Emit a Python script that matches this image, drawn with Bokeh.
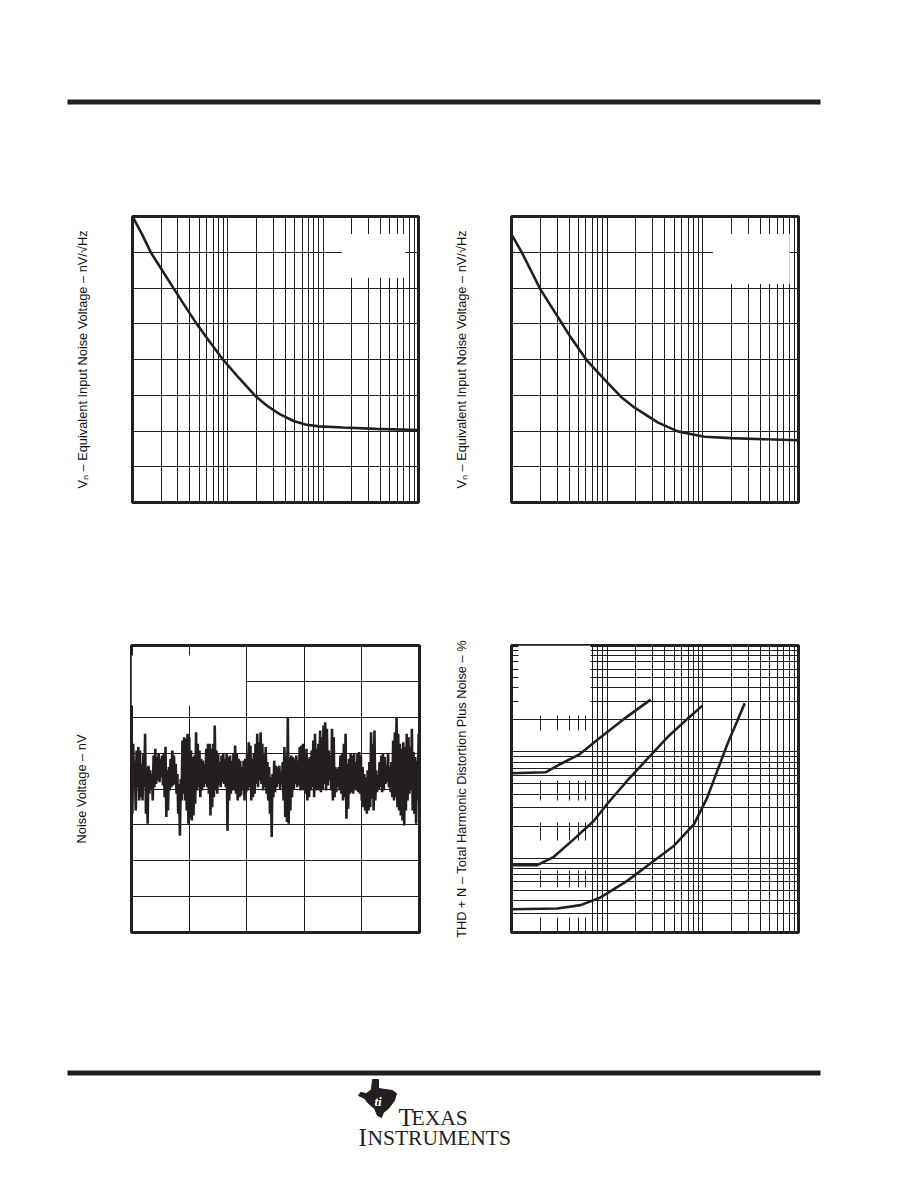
from bokeh.plotting import figure
from bokeh.layouts import column, row
from bokeh.models import Range1d, FixedTicker
from bokeh.embed import file_html
from bokeh.resources import INLINE
from bokeh.core.properties import value

INK = "#231f20"
LABEL_INK = "#111111"
LABEL_FONT = "Liberation Sans"
LOGO_FONT = "Liberation Serif"

# ---------------- data ----------------
# Chart 1: equivalent input noise voltage vs frequency (device A)
vn1_freq_hz = [10, 12.5, 15.6, 20, 27, 35, 47.3, 65, 90, 130, 194, 260, 350, 489, 650, 900, 1600, 3600, 10000]
vn1_nv = [80, 75.2, 69.9, 65.4, 59.9, 55.2, 49.9, 44.8, 39.8, 34.9, 29.8, 27.0, 24.7, 22.8, 21.8, 21.3, 21.0, 20.6, 20.3]

# Chart 2: equivalent input noise voltage vs frequency (device B)
vn2_freq_hz = [10, 12.9, 20, 30, 34.4, 41.6, 62, 100, 139, 192, 337, 547, 1040, 1982, 4436, 10000]
vn2_nv = [75.0, 69.8, 59.7, 52.2, 49.7, 46.2, 39.6, 33.6, 29.6, 26.6, 22.4, 19.9, 18.4, 18.0, 17.7, 17.4]

# Chart 3: noise voltage over time (nV), uniformly sampled across the 10 s record
noise_record_s = 10
noise_nv = [
    135, -69, 126, 14, 79, -60, 107, 5, 117, -32, 107, -23, 70, -32, 98, 5, 154, -69, 61, -97,
    65, -13, 52, 0, 42, -32, 93, 5, 112, 14, 89, 24, 98, 19, 84, 33, 93, 10, 98, -23,
    118, -78, 52, -60, 61, -4, 84, 5, 107, 10, 93, 14, 70, -13, 42, -69, 14, -130, 28, -32,
    135, -13, 144, -32, 140, -60, 154, -97, 144, -83, 107, -88, 89, -74, 93, -41, 158, -4, 126, 5,
    107, -23, 84, -4, 79, 5, 70, 14, 112, 5, 126, -13, 126, -74, 112, -51, 126, -23, 177, -4,
    107, -13, 98, 10, 75, 5, 93, 19, 98, 14, 84, 5,
    98, -116, 89, -32, 93, -13, 79, -4, 98, -4, 121, -13, 98, -32, 84, -23, 79, -18, 61, -4,
    79, -32, 84, -9, 98, -4, 130, 5, 121, -32, 84, -23, 98, -13, 126, 14, 154, 5, 130, 24,
    158, 14, 126, -4, 98, 5, 117, -13, 75, -32, 61, -69, 33, -134, 42, -23, 79, -9, 65, 5,
    61, 14, 65, 0, 47, 14, 75, -32, 117, -78, 93, -92, 200, -97, 89, -60, 93, -23, 89, 0,
    84, 14, 93, 5, 79, 10, 117, -4, 121, 0, 126, -4, 98, -13, 112, -32, 84, -23, 89, -4,
    107, 5, 135, -23, 154, -4, 112, 0, 126, -4, 163, -9, 144, 0, 177, 14,
    186, -4, 168, 10, 107, 24, 93, -4, 168, -32, 144, -23, 61, -9, 56, 5, 61, -4, 93, -13,
    98, -32, 126, -23, 154, -83, 70, -55, 84, -13, 98, -9, 93, -13, 98, 0, 75, -4, 98, -9,
    103, -13, 93, -32, 61, -51, 42, -60, 33, -69, 52, -60, 75, -51, 158, -27, 126, -60, 163, -32,
    52, -9, 38, 0, 75, 5, 93, -9, 98, -4, 89, 14, 65, 19, 98, 5, 61, -9, 75, -23,
    135, -32, 158, -23, 200, -51, 154, -60, 126, -74, 112, -88, 130, -102, 117, -60, 154, -32, 144, -13,
    117, -4, 168, -60, 103, -69, 89, -97, 79, -32, 154, -13,
]

# Chart 4: THD+N (%) vs output, three curves
thd_a_x = [0.01, 0.0227, 0.0326, 0.0507, 0.0853, 0.150, 0.285]
thd_a_y = [0.0628, 0.0642, 0.0769, 0.0941, 0.137, 0.204, 0.310]
thd_b_x = [0.01, 0.0186, 0.0277, 0.0449, 0.0727, 0.1, 0.162, 0.263, 0.426, 0.689, 0.989]
thd_b_y = [0.0086, 0.0086, 0.0103, 0.0151, 0.0225, 0.0323, 0.0535, 0.0857, 0.137, 0.204, 0.272]
thd_c_x = [0.01, 0.0301, 0.0527, 0.0853, 0.162, 0.263, 0.50, 0.81, 1.114, 1.419, 1.806, 2.30, 2.74]
thd_c_y = [0.00331, 0.00336, 0.00362, 0.00427, 0.00612, 0.00848, 0.0131, 0.0209, 0.0373, 0.0666, 0.1186, 0.197, 0.286]

# grid / tick positions
vn_x_major = [100, 1000]
vn_x_minor = [20, 30, 40, 50, 60, 70, 80, 90, 200, 300, 400, 500, 600, 700, 800, 900,
              2000, 3000, 4000, 5000, 6000, 7000, 8000, 9000]
vn_y_grid = [10, 20, 30, 40, 50, 60, 70]
noise_x_grid = [2, 4, 6, 8]
noise_y_grid = [-300, -200, -100, 0, 100, 200, 300]
thd_x_major = [0.1, 1]
thd_x_minor = [0.02, 0.03, 0.04, 0.05, 0.06, 0.07, 0.08, 0.09, 0.2, 0.3, 0.4, 0.5, 0.6, 0.7, 0.8, 0.9,
               2, 3, 4, 5, 6, 7, 8, 9]
thd_y_lines = [0.003, 0.004, 0.005, 0.006, 0.007, 0.008, 0.009, 0.01, 0.02, 0.03, 0.04, 0.05, 0.06,
               0.07, 0.08, 0.09, 0.1, 0.2, 0.3, 0.4, 0.5, 0.6, 0.7, 0.8, 0.9]

# blanked annotation areas (left, right, bottom, top) in data units
vn1_blank = [(1570, 7244, 62.9, 75.1)]
vn2_blank = [(1274, 8110, 61.1, 75.1)]
noise_blank = [(0, 3.97, 233, 372)]
thd_blank_top = [(0.0118, 0.067, 0.22, 1.0)]
thd_blank_lower = [(0.0115, 0.066, 0.0537, 0.159), (0.0115, 0.066, 0.0216, 0.0348),
                   (0.0115, 0.066, 0.00766, 0.01466), (0.0115, 0.066, 0.00277, 0.0053)]

LABEL_VN = "V\u2099 \u2013 Equivalent Input Noise Voltage \u2013 nV/\u221aHz"
LABEL_NOISE = "Noise Voltage \u2013 nV"
LABEL_THD = "THD + N \u2013 Total Harmonic Distortion Plus Noise \u2013 %"


def make_chart(xr, yr, xtype, ytype, label, mbl, mbr, mbt, mbb, fw, fh,
               xg_major, xg_minor, yg_major, yg_minor, blanks):
    p = figure(x_range=Range1d(*xr), y_range=Range1d(*yr),
               x_axis_type=xtype, y_axis_type=ytype, x_axis_location=None,
               frame_width=fw, frame_height=fh,
               min_border_left=mbl, min_border_right=mbr,
               min_border_top=mbt, min_border_bottom=mbb,
               toolbar_location=None, output_backend="svg",
               background_fill_color="white", border_fill_color="white")
    ax = p.yaxis[0]
    ax.ticker = FixedTicker(ticks=[])
    ax.axis_line_color = None
    ax.major_tick_line_color = None
    ax.minor_tick_line_color = None
    ax.major_label_text_font_size = "0px"
    ax.major_tick_out = 0
    ax.major_label_standoff = 0
    ax.axis_label = label
    ax.axis_label_text_font = LABEL_FONT
    ax.axis_label_text_font_size = "12.8px"
    ax.axis_label_text_font_style = "normal"
    ax.axis_label_text_color = LABEL_INK
    ax.axis_label_standoff = 43
    p.xgrid.ticker = FixedTicker(ticks=xg_major, minor_ticks=xg_minor)
    p.ygrid.ticker = FixedTicker(ticks=yg_major, minor_ticks=yg_minor)
    for g in (p.xgrid[0], p.ygrid[0]):
        g.grid_line_color = INK
        g.grid_line_width = 1
        g.grid_line_alpha = 1
        g.minor_grid_line_color = INK
        g.minor_grid_line_width = 1
    p.outline_line_color = INK
    p.outline_line_width = 3
    p.outline_line_alpha = 1
    for (l, r, b, t) in blanks:
        p.quad(left=l, right=r, bottom=b, top=t, fill_color="white", line_color=None)
    return p


def blank(p, boxes):
    for (l, r, b, t) in boxes:
        p.quad(left=l, right=r, bottom=b, top=t, fill_color="white", line_color=None)


# ---- top row ----
p1 = make_chart((10, 10000), (0, 80), "log", "linear", LABEL_VN, 132, 30, 58, 68, 286, 286,
                vn_x_major, vn_x_minor, vn_y_grid, [], vn1_blank)
p1.line(vn1_freq_hz, vn1_nv, line_color=INK, line_width=2.6)

p2 = make_chart((10, 10000), (0, 80), "log", "linear", LABEL_VN, 63, 20, 58, 68, 287, 286,
                vn_x_major, vn_x_minor, vn_y_grid, [], vn2_blank)
p2.line(vn2_freq_hz, vn2_nv, line_color=INK, line_width=2.6)

# ---- bottom row ----
p3 = make_chart((0, 10), (-400, 400), "linear", "linear", LABEL_NOISE, 131, 29, 75, 68, 288, 287,
                noise_x_grid, [], noise_y_grid, [], noise_blank)
n = len(noise_nv)
noise_t = [noise_record_s * i / (n - 1) for i in range(n)]
p3.line(noise_t, noise_nv, line_color=INK, line_width=2.6)

p4 = make_chart((0.01, 10), (0.002, 1), "log", "log", LABEL_THD, 63, 20, 75, 68, 287, 287,
                thd_x_major, thd_x_minor, [], [], [])
p4.ygrid.visible = False
blank(p4, thd_blank_lower)
p4.hspan(y=thd_y_lines, line_color=INK, line_width=1)
blank(p4, thd_blank_top)
for xs, ys in ((thd_a_x, thd_a_y), (thd_b_x, thd_b_y), (thd_c_x, thd_c_y)):
    p4.line(xs, ys, line_color=INK, line_width=2.6)


# ---- page header / footer (page pixel coordinates) ----
def band(h):
    p = figure(x_range=Range1d(0, 910), y_range=Range1d(h, 0),
               frame_width=910, frame_height=h, min_border=0,
               x_axis_location=None, y_axis_location=None,
               toolbar_location=None, output_backend="svg")
    p.grid.visible = False
    p.outline_line_color = None
    return p


header = band(158)
header.quad(left=67, right=820, top=99, bottom=104, fill_color=INK, line_color=None)

footer = band(180)
footer.quad(left=67, right=820, top=70, bottom=75, fill_color=INK, line_color=None)
logo_x = [372, 378, 378, 392, 396, 394, 388, 383, 381, 377, 374, 368, 364, 358, 360, 366, 371]
logo_y = [79, 79, 88, 90, 93, 100, 108, 112, 117, 115, 108, 103, 98, 95, 92, 93, 89]
footer.patch(logo_x, logo_y, fill_color=INK, line_color=INK)
footer.text(x=[374], y=[101], text=["ti"], text_font=value(LOGO_FONT), text_font_size="13px",
            text_font_style="bold italic", text_color="white", text_baseline="alphabetic")
footer.text(x=[398], y=[117], text=["T"], text_font=value(LOGO_FONT), text_font_size="25px",
            text_color=INK, text_baseline="alphabetic")
footer.text(x=[411], y=[117], text=["EXAS"], text_font=value(LOGO_FONT), text_font_size="21.5px",
            text_color=INK, text_baseline="alphabetic")
footer.text(x=[358], y=[137], text=["I"], text_font=value(LOGO_FONT), text_font_size="25px",
            text_color=INK, text_baseline="alphabetic")
footer.text(x=[367], y=[137], text=["NSTRUMENTS"], text_font=value(LOGO_FONT), text_font_size="21.5px",
            text_color=INK, text_baseline="alphabetic")

layout = column(header, row(p1, p2), row(p3, p4), footer)

open("out.html", "w").write(file_html(layout, INLINE))
